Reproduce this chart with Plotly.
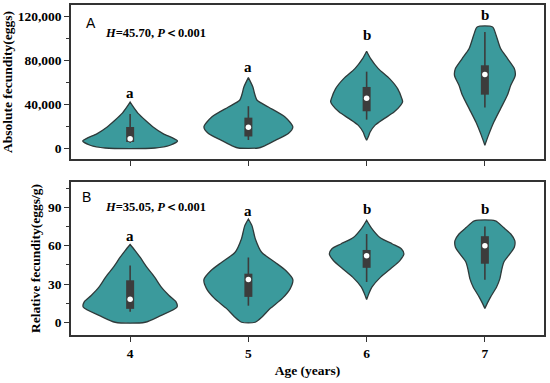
import plotly.graph_objects as go

# ---------------- data ----------------
ages = [4, 5, 6, 7]
age_labels = ["4", "5", "6", "7"]

# Panel A: absolute fecundity (eggs) – violin outline profiles (value, half-width in category units)
abs_prof_y = [
    [0, 2500, 6400, 9000, 13100, 19100, 25000, 31300, 37000, 41800],
    [0, 1500, 7000, 13100, 19100, 28200, 37300, 43400, 50000, 55500, 64000],
    [7000, 10500, 14500, 20600, 26700, 32700, 38800, 42000, 44900, 54000, 63100, 72200, 81300, 88000],
    [2500, 11500, 23600, 35800, 47900, 57000, 66100, 72200, 81300, 90400, 102500, 110000],
]
abs_prof_w = [
    [0.211, 0.338, 0.401, 0.363, 0.278, 0.194, 0.131, 0.070, 0.030, 0.0],
    [0.084, 0.127, 0.228, 0.338, 0.376, 0.310, 0.169, 0.074, 0.051, 0.038, 0.0],
    [0.0, 0.015, 0.030, 0.070, 0.148, 0.232, 0.287, 0.304, 0.298, 0.262, 0.194, 0.099, 0.034, 0.0],
    [0.0, 0.030, 0.076, 0.133, 0.190, 0.219, 0.257, 0.249, 0.192, 0.133, 0.095, 0.065],
]
abs_q1 = [5500, 10500, 33400, 48500]
abs_q3 = [19100, 27600, 55500, 75200]
abs_wlo = [4500, 7300, 25800, 36800]
abs_whi = [31000, 38000, 69400, 105500]
abs_med = [8500, 18800, 45200, 66800]
abs_letters = ["a", "a", "b", "b"]
abs_letter_y = [49700, 73400, 102500, 120600]

# Panel B: relative fecundity (eggs/g)
rel_prof_y = [
    [0, 5, 12, 16, 21, 27.7, 35.4, 43.2, 51, 56.2, 61],
    [0, 4.4, 10.9, 18.7, 26.4, 33.5, 40.6, 47.1, 54.9, 65.3, 75.6, 81],
    [17.9, 23, 27.7, 35.4, 42, 48.4, 53.6, 57.5, 61.4, 66.5, 74.3, 80],
    [10.9, 15, 19.9, 27.7, 34.2, 40.6, 47.1, 53.6, 58.8, 64, 69.2, 74.3, 79.5],
]
rel_prof_w = [
    [0.127, 0.253, 0.397, 0.388, 0.329, 0.262, 0.207, 0.141, 0.084, 0.042, 0.0],
    [0.057, 0.118, 0.186, 0.287, 0.354, 0.376, 0.316, 0.225, 0.112, 0.059, 0.031, 0.0],
    [0.0, 0.021, 0.046, 0.118, 0.203, 0.281, 0.315, 0.295, 0.218, 0.112, 0.038, 0.0],
    [0.0, 0.021, 0.049, 0.099, 0.127, 0.141, 0.160, 0.211, 0.249, 0.253, 0.219, 0.158, 0.089],
]
rel_q1 = [10.5, 19.9, 42.7, 45.9]
rel_q3 = [32.9, 38.1, 56.7, 67.5]
rel_wlo = [8.2, 13.0, 31.6, 33.4]
rel_whi = [44.5, 50.8, 69.2, 75.2]
rel_med = [18.0, 33.5, 52.2, 60.0]
rel_letters = ["a", "a", "b", "b"]
rel_letter_y = [67.8, 87.3, 88.6, 88.6]

abs_stat = "<b><i>H</i>=45.70, <i>P</i>＜0.001</b>"
rel_stat = "<b><i>H</i>=35.05, <i>P</i>＜0.001</b>"

# ---------------- styling ----------------
FILL = "#3b9a9c"
EDGE = "#2e3a3a"
BOXC = "#3c3c3c"
SERIF = "Liberation Serif, Times New Roman, serif"
SANS = "Liberation Sans, Arial, sans-serif"

fig = go.Figure()


def add_panel(prof_y, prof_w, q1, q3, wlo, whi, med, xa, ya):
    for i, c in enumerate(ages):
        ys = prof_y[i]
        ws = prof_w[i]
        xr = [c + w for w in ws]
        xl = [c - w for w in ws][::-1]
        xs = xr + xl + [xr[0]]
        yy = ys + ys[::-1] + [ys[0]]
        fig.add_trace(go.Scatter(
            x=xs, y=yy, mode="lines", fill="toself", fillcolor=FILL,
            line=dict(color=EDGE, width=1.3, shape="spline", smoothing=0.7),
            xaxis=xa, yaxis=ya, showlegend=False, hoverinfo="skip"))
        # whisker
        fig.add_trace(go.Scatter(
            x=[c, c], y=[wlo[i], whi[i]], mode="lines",
            line=dict(color=BOXC, width=1.6), xaxis=xa, yaxis=ya,
            showlegend=False, hoverinfo="skip"))
        # box
        fig.add_trace(go.Scatter(
            x=[c, c], y=[q1[i], q3[i]], mode="lines",
            line=dict(color=BOXC, width=8), xaxis=xa, yaxis=ya,
            showlegend=False, hoverinfo="skip"))
        # median
        fig.add_trace(go.Scatter(
            x=[c], y=[med[i]], mode="markers",
            marker=dict(color="white", size=5.5), xaxis=xa, yaxis=ya,
            showlegend=False, hoverinfo="skip"))


add_panel(abs_prof_y, abs_prof_w, abs_q1, abs_q3, abs_wlo, abs_whi, abs_med, "x", "y")
add_panel(rel_prof_y, rel_prof_w, rel_q1, rel_q3, rel_wlo, rel_whi, rel_med, "x2", "y2")

annotations = []
for i, c in enumerate(ages):
    annotations.append(dict(x=c, y=abs_letter_y[i], xref="x", yref="y", text="<b>%s</b>" % abs_letters[i],
                            showarrow=False, font=dict(family=SERIF, size=15, color="black")))
    annotations.append(dict(x=c, y=rel_letter_y[i], xref="x2", yref="y2", text="<b>%s</b>" % rel_letters[i],
                            showarrow=False, font=dict(family=SERIF, size=15, color="black")))

annotations += [
    dict(x=0.028, y=0.885, xref="x domain", yref="y domain", text="A", showarrow=False,
         xanchor="left", yanchor="middle", font=dict(family=SANS, size=14, color="black")),
    dict(x=0.068, y=0.82, xref="x domain", yref="y domain", text=abs_stat, showarrow=False,
         xanchor="left", yanchor="middle", font=dict(family=SERIF, size=12.5, color="black")),
    dict(x=0.018, y=0.905, xref="x2 domain", yref="y2 domain", text="B", showarrow=False,
         xanchor="left", yanchor="middle", font=dict(family=SANS, size=14, color="black")),
    dict(x=0.068, y=0.835, xref="x2 domain", yref="y2 domain", text=rel_stat, showarrow=False,
         xanchor="left", yanchor="middle", font=dict(family=SERIF, size=12.5, color="black")),
]

axis_common = dict(showline=True, linecolor="#333333", linewidth=1.5, mirror=True,
                   showgrid=False, zeroline=False, ticks="outside", ticklen=5,
                   tickwidth=1.2, tickcolor="#333333")
tickfont = dict(family=SERIF, size=13.5, color="black", weight="bold")
titlefont = dict(family=SERIF, size=13.5, color="black", weight="bold")

fig.update_layout(
    width=550, height=383,
    margin=dict(l=71, r=6, t=5, b=48, autoexpand=False),
    paper_bgcolor="white", plot_bgcolor="white",
    showlegend=False,
    annotations=annotations,
    xaxis=dict(domain=[0, 1], anchor="y", range=[3.5, 7.5], tickvals=ages,
               showticklabels=False, **axis_common),
    xaxis2=dict(domain=[0, 1], anchor="y2", range=[3.5, 7.5], tickvals=ages, ticktext=age_labels,
                tickfont=tickfont, title=dict(text="Age (years)", font=titlefont, standoff=6),
                **axis_common),
    yaxis=dict(domain=[0.5333, 1], anchor="x", range=[-10000, 130000],
               tickvals=[0, 40000, 80000, 120000], tickformat=",d", tickfont=tickfont,
               minor=dict(ticks="outside", ticklen=3, dtick=20000, tick0=0, tickcolor="#333333"),
               title=dict(text="Absolute fecundity(eggs)", font=titlefont, standoff=4),
               **axis_common),
    yaxis2=dict(domain=[0, 0.4636], anchor="x2", range=[-10, 110],
                tickvals=[0, 30, 60, 90], tickfont=tickfont,
                minor=dict(ticks="outside", ticklen=3, dtick=15, tick0=0, tickcolor="#333333"),
                title=dict(text="Relative fecundity(eggs/g)", font=titlefont, standoff=4),
                **axis_common),
)

fig.write_html("out.html", config={"displayModeBar": False},
               post_script="document.body.style.margin='0';document.body.style.overflow='hidden';")
